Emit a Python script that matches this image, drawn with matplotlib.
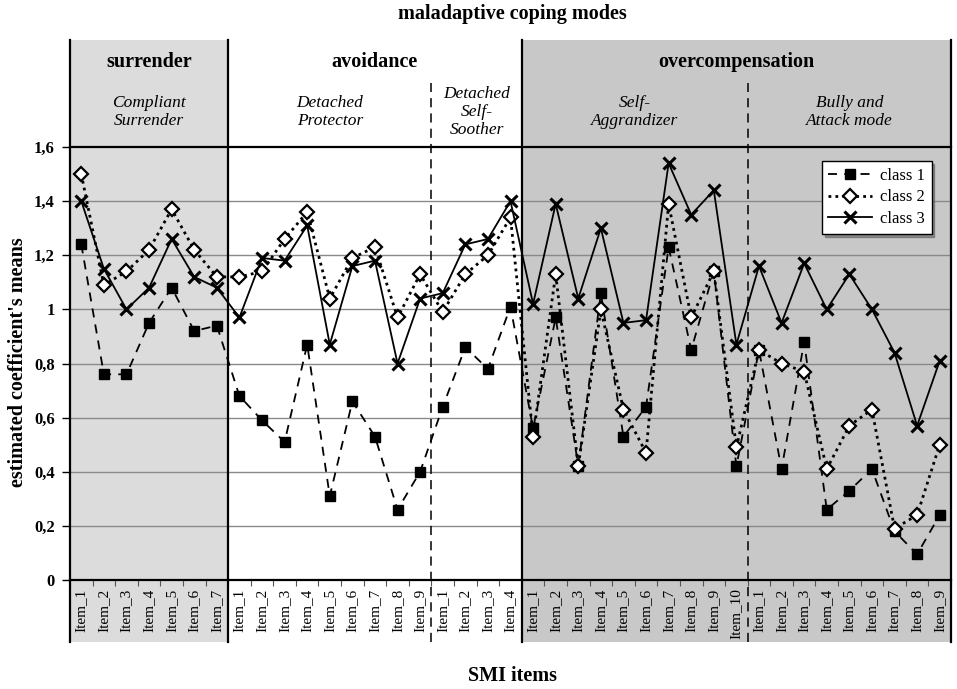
import matplotlib
matplotlib.use("Agg")
import matplotlib.pyplot as plt
from matplotlib.patches import Rectangle
from matplotlib.lines import Line2D
from matplotlib.transforms import blended_transform_factory
import numpy as np

plt.rcParams['font.family'] = ['Liberation Serif', 'DejaVu Serif']

# ---- data ----
group_sizes = [7, 9, 4, 10, 9]   # Compliant Surrender, Detached Protector, Detached Self-Soother, Self-Aggrandizer, Bully and Attack
item_labels = []
for n in group_sizes:
    item_labels += [f"Item_{i}" for i in range(1, n + 1)]

class1 = [1.24, 0.76, 0.76, 0.95, 1.08, 0.92, 0.94,
          0.68, 0.59, 0.51, 0.87, 0.31, 0.66, 0.53, 0.26, 0.40,
          0.64, 0.86, 0.78, 1.01,
          0.56, 0.97, 0.42, 1.06, 0.53, 0.64, 1.23, 0.85, 1.14, 0.42,
          0.85, 0.41, 0.88, 0.26, 0.33, 0.41, 0.18, 0.095, 0.24]
class2 = [1.50, 1.09, 1.14, 1.22, 1.37, 1.22, 1.12,
          1.12, 1.14, 1.26, 1.36, 1.04, 1.19, 1.23, 0.97, 1.13,
          0.99, 1.13, 1.20, 1.34,
          0.53, 1.13, 0.42, 1.00, 0.63, 0.47, 1.39, 0.97, 1.14, 0.49,
          0.85, 0.80, 0.77, 0.41, 0.57, 0.63, 0.19, 0.24, 0.50]
class3 = [1.40, 1.15, 1.00, 1.08, 1.26, 1.12, 1.08,
          0.97, 1.19, 1.18, 1.31, 0.87, 1.16, 1.18, 0.80, 1.04,
          1.06, 1.24, 1.26, 1.40,
          1.02, 1.39, 1.04, 1.30, 0.95, 0.96, 1.54, 1.35, 1.44, 0.87,
          1.16, 0.95, 1.17, 1.00, 1.13, 1.00, 0.84, 0.57, 0.81]

y_ticks = [0, 0.2, 0.4, 0.6, 0.8, 1.0, 1.2, 1.4, 1.6]
y_tick_labels = ["0", "0,2", "0,4", "0,6", "0,8", "1", "1,2", "1,4", "1,6"]

series_names = ["class 1", "class 2", "class 3"]
group_titles = ["surrender", "avoidance", "overcompensation"]
mode_titles = ["Compliant\nSurrender", "Detached\nProtector", "Detached\nSelf-\nSoother",
               "Self-\nAggrandizer", "Bully and\nAttack mode"]

# ---- figure ----
W, H = 957, 689
fig = plt.figure(figsize=(W / 100, H / 100), dpi=100)
ax = fig.add_axes([70 / W, (H - 580) / H, 881 / W, 433 / H])

x = np.arange(len(item_labels))
ax.set_xlim(-0.5, len(item_labels) - 0.5)
ax.set_ylim(0, 1.6)

trans = blended_transform_factory(ax.transData, ax.transAxes)
top_y = (580 - 40) / 433
bot_y = -(642 - 580) / 433
dash_top = (580 - 83) / 433

bounds = np.concatenate([[0], np.cumsum(group_sizes)]) - 0.5
# shading: surrender light gray, overcompensation darker gray
ax.add_patch(Rectangle((bounds[0], bot_y), bounds[1] - bounds[0], top_y - bot_y,
                       transform=trans, clip_on=False, facecolor='#dcdcdc',
                       edgecolor='none', zorder=0))
ax.add_patch(Rectangle((bounds[3], bot_y), bounds[5] - bounds[3], top_y - bot_y,
                       transform=trans, clip_on=False, facecolor='#c8c8c8',
                       edgecolor='none', zorder=0))

# gridlines
for v in y_ticks[1:-1]:
    ax.axhline(v, color='#8a8a8a', lw=1.0, zorder=1)

# solid separators
for b in [bounds[0], bounds[1], bounds[3], bounds[5]]:
    ax.add_line(Line2D([b, b], [bot_y, top_y], transform=trans, color='black',
                       lw=1.6, clip_on=False, zorder=3))
# dashed separators
for b in [bounds[2], bounds[4]]:
    ax.add_line(Line2D([b, b], [bot_y, dash_top], transform=trans, color='black',
                       lw=1.1, ls=(0, (6, 4)), clip_on=False, zorder=3))

for s in ['left', 'right']:
    ax.spines[s].set_visible(False)
for s in ['top', 'bottom']:
    ax.spines[s].set_linewidth(1.6)
    ax.spines[s].set_zorder(3)
ax.patch.set_visible(False)

# series
ax.plot(x, class1, ls=(0, (5, 4)), color='black', lw=1.3, marker='s', ms=7,
        mfc='black', mec='black', label=series_names[0], zorder=5)
ax.plot(x, class2, ls=(0, (1, 1.5)), color='black', lw=2.0, marker='D', ms=7.5,
        mfc='white', mec='black', mew=1.6, label=series_names[1], zorder=6)
ax.plot(x, class3, ls='-', color='black', lw=1.3, marker='x', ms=9, mew=2.2,
        label=series_names[2], zorder=7)

# ticks
ax.set_yticks(y_ticks)
ax.set_yticklabels(y_tick_labels, fontsize=12, fontweight='bold')
ax.tick_params(axis='y', length=6, width=1, pad=5)
ax.set_xticks(x)
ax.set_xticklabels(item_labels, rotation=90, fontsize=11, va='top', ha='center')
ax.set_xticks(np.arange(len(item_labels) + 1) - 0.5, minor=True)
ax.tick_params(axis='x', which='major', length=0, pad=6)
ax.tick_params(axis='x', which='minor', length=4, width=0.8, color='#555555')

# header texts
grp_centers = [(bounds[0] + bounds[1]) / 2, (bounds[1] + bounds[3]) / 2, (bounds[3] + bounds[5]) / 2]
for cx, t in zip(grp_centers, group_titles):
    ax.text(cx, (580 - 62) / 433, t, transform=trans, ha='center', va='center',
            fontsize=14.5, fontweight='bold')
for i, t in enumerate(mode_titles):
    cx = (bounds[i] + bounds[i + 1]) / 2
    ax.text(cx, (580 - 112) / 433, t, transform=trans, ha='center', va='center',
            fontsize=12.5, fontstyle='italic', linespacing=1.15, multialignment='center')

# titles
fig.text(512 / W, 1 - 14 / H, "maladaptive coping modes", ha='center', va='center',
         fontsize=14.5, fontweight='bold')
fig.text(512 / W, 1 - 676 / H, "SMI items", ha='center', va='center',
         fontsize=14.5, fontweight='bold')
fig.text(18 / W, 1 - 362 / H, "estimated coefficient's means", ha='center', va='center',
         rotation=90, fontsize=14.5, fontweight='bold')

# legend
leg = ax.legend(loc='upper right', bbox_to_anchor=(0.978, 0.968), borderaxespad=0,
                fontsize=12, frameon=True, fancybox=False, shadow=True, framealpha=1,
                edgecolor='black', handlelength=2.6, labelspacing=0.35,
                borderpad=0.4, handletextpad=0.5)
leg.get_frame().set_linewidth(1.0)
leg.set_zorder(10)

fig.savefig("out.png", dpi=100)
